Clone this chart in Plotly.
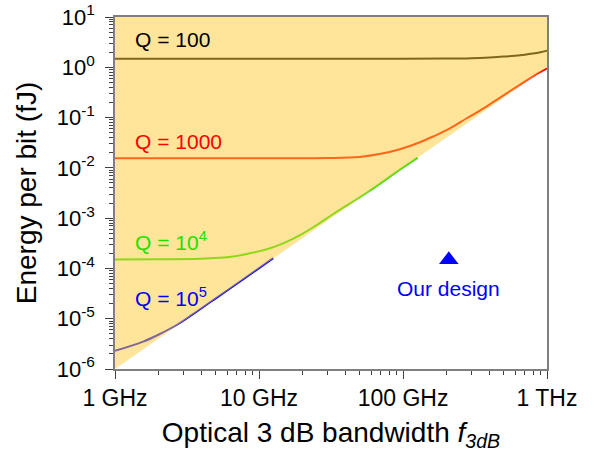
import math
import plotly.graph_objects as go

# ---- data (frequency in GHz, energy per bit in fJ) ----
q100_f = [1, 10, 100, 200, 300, 400, 500, 600, 700, 800, 900, 1000]
q100_E = [1.48, 1.48, 1.48, 1.49, 1.52, 1.57, 1.63, 1.70, 1.78, 1.88, 2.0, 2.14]

q1000_f = [1, 10, 30, 50, 70, 95, 130, 162, 212, 277, 360, 472, 600, 804, 1000]
q1000_E = [0.0155, 0.0155, 0.0157, 0.0165, 0.019, 0.0235, 0.032, 0.042, 0.061,
           0.097, 0.15, 0.25, 0.39, 0.67, 0.95]

q1e4_f = [1, 2, 3.9, 6.6, 8.66, 11.3, 14.7, 19.3, 25.2, 32.8, 56, 95, 126.5]
q1e4_E = [1.51e-4, 1.52e-4, 1.55e-4, 1.72e-4, 2.0e-4, 2.4e-4, 3.16e-4, 4.6e-4, 7.3e-4,
          1.21e-3, 3.2e-3, 9.2e-3, 1.6e-2]

q1e5_f = [1, 1.57, 2.0, 2.68, 3.5, 4.57, 5.97, 7.78, 12.56]
q1e5_E = [2.29e-6, 3.5e-6, 4.8e-6, 7.5e-6, 1.25e-5, 2.12e-5, 3.6e-5, 6.1e-5, 1.6e-4]

# lower bound of the shaded region and top of the plotted range
bound_f = [1, 1000]
bound_E = [1e-6, 1.0]
top_E = [10, 10]

design_f = [208]
design_E = [1.48e-4]

curve_labels = ["Q = 100", "Q = 1000", "Q = 10<sup>4</sup>", "Q = 10<sup>5</sup>"]
label_f = [1.33, 1.33, 1.33, 1.33]
label_E = [3.6, 0.034, 3.5e-4, 2.7e-5]
label_colors = ["#000000", "#FF0000", "#22E000", "#0000FF"]

x_tickvals = [1, 10, 100, 1000]
x_ticktext = ["1 GHz", "10 GHz", "100 GHz", "1 THz"]
y_tickvals = [1e-6, 1e-5, 1e-4, 1e-3, 1e-2, 1e-1, 1, 10]
y_ticktext = ["10<sup>-6</sup>", "10<sup>-5</sup>", "10<sup>-4</sup>", "10<sup>-3</sup>",
              "10<sup>-2</sup>", "10<sup>-1</sup>", "10<sup>0</sup>", "10<sup>1</sup>"]

FONT = "Arial, Liberation Sans, sans-serif"

fig = go.Figure()
curves = [(q100_f, q100_E, "#000000"), (q1000_f, q1000_E, "#FF0000"),
          (q1e4_f, q1e4_E, "#22E000"), (q1e5_f, q1e5_E, "#0000FF")]
for f, E, c in curves:
    fig.add_trace(go.Scatter(x=f, y=E, mode="lines",
                             line=dict(color=c, width=2, shape="spline", smoothing=1.0),
                             hoverinfo="skip", showlegend=False))

# semi-transparent shaded region drawn on top of the curves
fig.add_trace(go.Scatter(x=bound_f + bound_f[::-1], y=bound_E + top_E,
                         mode="lines", fill="toself",
                         fillcolor="rgba(255,204,51,0.5)", line=dict(width=0),
                         hoverinfo="skip", showlegend=False))

fig.add_trace(go.Scatter(x=design_f, y=design_E, mode="markers",
                         marker=dict(symbol="triangle-up", size=17, color="#0000FF"),
                         hoverinfo="skip", showlegend=False))

minor_x = [m * 10 ** k for k in range(0, 3) for m in range(2, 10)]
minor_y = [m * 10.0 ** k for k in range(-6, 1) for m in range(2, 10)]

fig.update_xaxes(type="log", range=[0, 3], tickmode="array", tickvals=x_tickvals,
                 ticktext=x_ticktext, ticks="outside", ticklen=8, tickwidth=1.2,
                 tickcolor="#404040", showline=True, linecolor="#7f7f7f", linewidth=1.5,
                 mirror=True, showgrid=False, zeroline=False, automargin=False,
                 ticklabeloverflow="allow",
                 tickfont=dict(family=FONT, size=23, color="#000000"),
                 minor=dict(tickmode="array", tickvals=minor_x, ticks="outside",
                            ticklen=4, tickcolor="#404040", showgrid=False),
                 title=dict(text="Optical 3 dB bandwidth <i>f</i><sub><i>3dB</i></sub>",
                            font=dict(family=FONT, size=28, color="#000000"), standoff=12))
fig.update_yaxes(type="log", range=[-6, 1], tickmode="array", tickvals=y_tickvals,
                 ticktext=y_ticktext, ticks="outside", ticklen=8, tickwidth=1.2,
                 tickcolor="#404040", showline=True, linecolor="#7f7f7f", linewidth=1.5,
                 mirror=True, showgrid=False, zeroline=False, automargin=False,
                 ticklabeloverflow="allow",
                 tickfont=dict(family=FONT, size=22, color="#000000"),
                 ticklabelstandoff=6,
                 minor=dict(tickmode="array", tickvals=minor_y, ticks="outside",
                            ticklen=4, tickcolor="#404040", showgrid=False),
                 title=dict(text="Energy per bit (fJ)",
                            font=dict(family=FONT, size=28, color="#000000"), standoff=12))

annotations = []
for txt, f, E, c in zip(curve_labels, label_f, label_E, label_colors):
    annotations.append(dict(x=math.log10(f), y=math.log10(E), xref="x", yref="y",
                            text=txt, showarrow=False, xanchor="left", yanchor="middle",
                            font=dict(family=FONT, size=21, color=c)))
annotations.append(dict(x=math.log10(design_f[0]), y=math.log10(4.0e-5), xref="x", yref="y",
                        text="Our design", showarrow=False, xanchor="center", yanchor="middle",
                        font=dict(family=FONT, size=21, color="#0000FF")))

fig.update_layout(width=597, height=461, margin=dict(l=115, r=50, t=17, b=92),
                  plot_bgcolor="#FFFFFF", paper_bgcolor="#FFFFFF",
                  annotations=annotations, showlegend=False)

# remove the browser's default page margin so the figure fills the window exactly
fig.write_html("out.html", config={"displayModeBar": False},
               post_script="document.body.style.margin='0';")
